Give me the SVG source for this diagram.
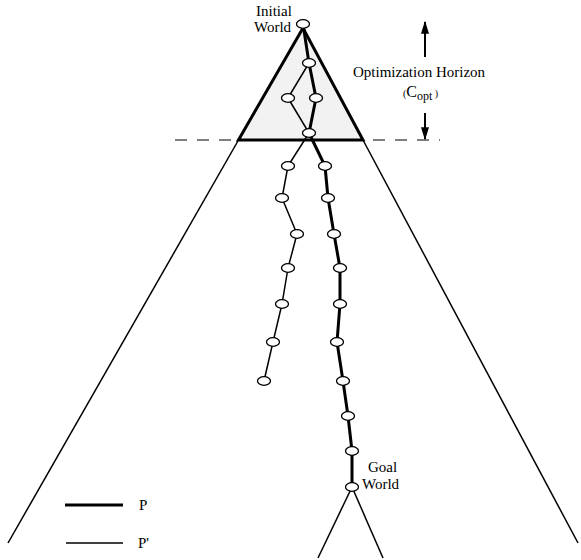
<svg xmlns="http://www.w3.org/2000/svg" width="581" height="560" viewBox="0 0 581 560">
<style>
text{font-family:"Liberation Serif","Times New Roman",serif;font-size:15px;fill:#000}
.thick{stroke:#000;stroke-width:3;fill:none;stroke-linejoin:round}
.thin{stroke:#000;stroke-width:1.5;fill:none;stroke-linejoin:round}
.node{fill:#fff;stroke:#000;stroke-width:1.3}
.dash{stroke:#555;stroke-width:1.5;stroke-dasharray:12 10;fill:none}
</style>
<defs>
<marker id="ah" viewBox="0 0 10 10" refX="9" refY="5" markerWidth="13" markerHeight="8" markerUnits="userSpaceOnUse" orient="auto" preserveAspectRatio="none">
<path d="M0,0 L10,5 L0,10 z" fill="#000"/>
</marker>
</defs>
<g id="horizon">
<line class="dash" x1="175" y1="140" x2="440" y2="140"/>
<polygon points="303,28 238.5,140 363,140" fill="#f2f2f2" stroke="#000" stroke-width="3" stroke-linejoin="miter"/>
</g>
<g id="search-space">
<line class="thin" x1="238.5" y1="140" x2="8" y2="543"/>
<line class="thin" x1="363" y1="140" x2="578" y2="543"/>
<line class="thin" x1="352" y1="487" x2="318" y2="558"/>
<line class="thin" x1="352" y1="487" x2="383" y2="558"/>
</g>
<g id="connectors">
<polyline class="thin" points="309,63 288,98 309,133"/>
<polyline class="thin" points="309,133 288,166 282,198 297,234 288,268 282,304 273,342 264,381"/>
<polyline class="thick" points="303,24 309,63 316,98 309,133 325,166 328,198 334,234 340,268 340,304 337,342 343,381 348,416 352,451 352,487"/>
</g>
<g id="initial-world">
<ellipse class="node" cx="303" cy="24" rx="6.5" ry="4.3"/>
<text x="256" y="16">Initial</text>
<text x="254" y="32">World</text>
</g>
<g id="n1"><ellipse class="node" cx="309" cy="63" rx="6.5" ry="4.3"/></g>
<g id="n2"><ellipse class="node" cx="288" cy="98" rx="6.5" ry="4.3"/></g>
<g id="n3"><ellipse class="node" cx="316" cy="98" rx="6.5" ry="4.3"/></g>
<g id="n4"><ellipse class="node" cx="309" cy="133" rx="6.5" ry="4.3"/></g>
<g id="p2-nodes">
<ellipse class="node" cx="288" cy="166" rx="6.5" ry="4.3"/>
<ellipse class="node" cx="282" cy="198" rx="6.5" ry="4.3"/>
<ellipse class="node" cx="297" cy="234" rx="6.5" ry="4.3"/>
<ellipse class="node" cx="288" cy="268" rx="6.5" ry="4.3"/>
<ellipse class="node" cx="282" cy="304" rx="6.5" ry="4.3"/>
<ellipse class="node" cx="273" cy="342" rx="6.5" ry="4.3"/>
<ellipse class="node" cx="264" cy="381" rx="6.5" ry="4.3"/>
</g>
<g id="p-nodes">
<ellipse class="node" cx="325" cy="166" rx="6.5" ry="4.3"/>
<ellipse class="node" cx="328" cy="198" rx="6.5" ry="4.3"/>
<ellipse class="node" cx="334" cy="234" rx="6.5" ry="4.3"/>
<ellipse class="node" cx="340" cy="268" rx="6.5" ry="4.3"/>
<ellipse class="node" cx="340" cy="304" rx="6.5" ry="4.3"/>
<ellipse class="node" cx="337" cy="342" rx="6.5" ry="4.3"/>
<ellipse class="node" cx="343" cy="381" rx="6.5" ry="4.3"/>
<ellipse class="node" cx="348" cy="416" rx="6.5" ry="4.3"/>
<ellipse class="node" cx="352" cy="451" rx="6.5" ry="4.3"/>
</g>
<g id="goal-world">
<ellipse class="node" cx="352" cy="487" rx="6.5" ry="4.3"/>
<text x="368" y="472">Goal</text>
<text x="362" y="489">World</text>
</g>
<g id="opt-horizon">
<line x1="425" y1="57" x2="425" y2="22" stroke="#000" stroke-width="2" marker-end="url(#ah)"/>
<line x1="425" y1="113" x2="425" y2="139" stroke="#000" stroke-width="2" marker-end="url(#ah)"/>
<text x="353" y="77">Optimization Horizon</text>
<text x="403" y="97"><tspan font-size="10">(</tspan><tspan font-size="16">C</tspan><tspan font-size="12" dy="3">opt</tspan><tspan font-size="10" dy="-3"> )</tspan></text>
</g>
<g id="legend">
<line class="thick" x1="65" y1="505" x2="123" y2="505"/>
<text x="139" y="510">P</text>
<line class="thin" x1="66" y1="543" x2="123" y2="543"/>
<text x="138" y="548">P'</text>
</g>
</svg>
